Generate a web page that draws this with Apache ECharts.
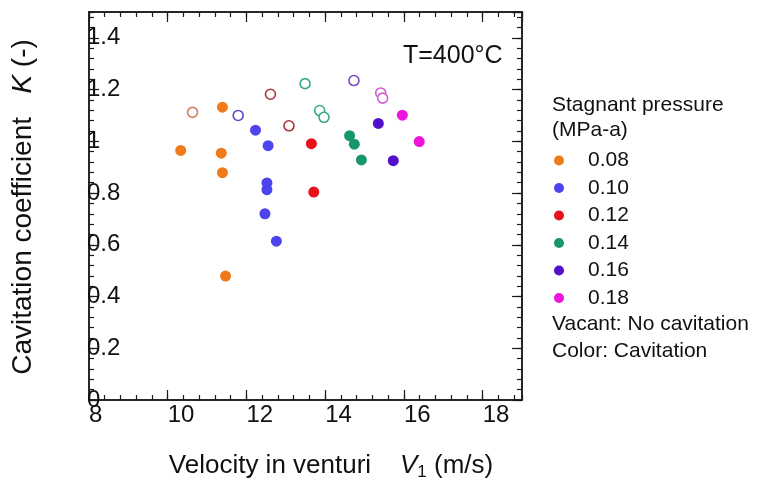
<!DOCTYPE html>
<html>
<head>
<meta charset="utf-8">
<script src="https://cdn.jsdelivr.net/npm/echarts@6/dist/echarts.min.js"></script>
<style>
html,body{margin:0;padding:0;background:#fff;}
#chart{width:757px;height:479px;}
</style>
</head>
<body>
<div id="chart"></div>
<script>
// Pressure groups (MPa-a)
const pressures = ['0.08', '0.10', '0.12', '0.14', '0.16', '0.18'];
const fillColors = ['#f07a1a', '#4d44ee', '#e8121c', '#16966a', '#5210cc', '#ee14dc'];
const openColors = ['#d08060', '#5a4cc8', '#a8323c', '#3aa88a', '#7a48c0', '#d060d0'];

// Cavitation (filled) points: [V1 (m/s), K]
const cav008 = [[10.33, 0.965], [11.39, 1.132], [11.36, 0.954], [11.39, 0.879], [11.47, 0.479]];
const cav010 = [[12.23, 1.043], [12.55, 0.983], [12.52, 0.839], [12.52, 0.813], [12.47, 0.720], [12.76, 0.614]];
const cav012 = [[13.65, 0.991], [13.71, 0.804]];
const cav014 = [[14.62, 1.022], [14.74, 0.989], [14.92, 0.928]];
const cav016 = [[15.35, 1.069], [15.73, 0.925]];
const cav018 = [[15.96, 1.101], [16.39, 0.999]];

// No cavitation (open) points
const noCav008 = [[10.63, 1.112]];
const noCav010 = [[11.79, 1.100]];
const noCav012 = [[12.61, 1.182], [13.08, 1.060]];
const noCav014 = [[13.49, 1.223], [13.86, 1.119], [13.97, 1.093]];
const noCav016 = [[14.73, 1.235]];
const noCav018 = [[15.41, 1.187], [15.46, 1.167]];

const cavData = [cav008, cav010, cav012, cav014, cav016, cav018];
const noCavData = [noCav008, noCav010, noCav012, noCav014, noCav016, noCav018];

const xMin = 8, xMax = 19, xMajor = 2, xMinor = 0.4;
const yMin = 0, yMax = 1.5, yMajor = 0.2, yMinor = 0.04;

const FONT = 'Liberation Sans, Arial, sans-serif';
const AX = '#1a1a1a';

function xAx(pos, interval, tickLen, labels) {
  return {
    type: 'value', position: pos, min: xMin, max: xMax, interval: interval,
    axisLine: { show: true, onZero: false, lineStyle: { color: AX, width: 1.5 } },
    axisTick: { show: true, inside: true, length: tickLen, lineStyle: { color: AX, width: 1.2 } },
    axisLabel: labels ? {
      show: true, align: 'left', margin: 3, color: '#111', fontSize: 24, fontFamily: FONT,
      showMaxLabel: false
    } : { show: false },
    splitLine: { show: false }
  };
}
function yAx(pos, interval, tickLen, labels) {
  return {
    type: 'value', position: pos, min: yMin, max: yMax, interval: interval,
    axisLine: { show: true, onZero: false, lineStyle: { color: AX, width: 1.5 } },
    axisTick: { show: true, inside: true, length: tickLen, lineStyle: { color: AX, width: 1.2 } },
    axisLabel: labels ? {
      show: true, inside: true, margin: -2, color: '#111', fontSize: 24, fontFamily: FONT,
      showMaxLabel: false, showMinLabel: true
    } : { show: false },
    splitLine: { show: false }
  };
}

const series = [];
pressures.forEach((p, i) => {
  series.push({
    name: p, type: 'scatter', xAxisIndex: 0, yAxisIndex: 0,
    symbol: 'circle', symbolSize: 11,
    itemStyle: { color: fillColors[i], opacity: 1 },
    data: cavData[i], z: 5
  });
  series.push({
    name: p + ' open', type: 'scatter', xAxisIndex: 0, yAxisIndex: 0,
    symbol: 'circle', symbolSize: 10,
    itemStyle: { color: '#fff', borderColor: openColors[i], borderWidth: 1.6, opacity: 1 },
    data: noCavData[i], z: 5
  });
});

const chart = echarts.init(document.getElementById('chart'), null, { renderer: 'canvas' });
chart.setOption({
  animation: false,
  backgroundColor: '#fff',
  grid: { left: 89, width: 433, top: 12, height: 388 },
  xAxis: [
    xAx('bottom', xMajor, 10, true),
    xAx('bottom', xMinor, 5, false),
    xAx('top', xMajor, 10, false),
    xAx('top', xMinor, 5, false)
  ],
  yAxis: [
    yAx('left', yMajor, 10, true),
    yAx('left', yMinor, 5, false),
    yAx('right', yMajor, 10, false),
    yAx('right', yMinor, 5, false)
  ],
  legend: {
    data: pressures,
    orient: 'vertical', left: 549, top: 145,
    itemWidth: 48, itemHeight: 10, itemGap: 6.5,
    icon: 'circle',
    selectedMode: false,
    textStyle: { fontSize: 21, lineHeight: 21, color: '#111', fontFamily: FONT }
  },
  graphic: [
    { type: 'text', x: 23, y: 207, rotation: Math.PI / 2,
      style: { text: '{a|Cavitation coefficient   }{b|K}{a| (-)}', align: 'center', verticalAlign: 'middle',
        rich: { a: { fontSize: 28, fontFamily: FONT, fill: '#111' }, b: { fontSize: 28, fontStyle: 'italic', fontFamily: FONT, fill: '#111' } } } },
    { type: 'text', x: 331, y: 466,
      style: { text: '{a|Velocity in venturi    }{b|V}{s|1}{a| (m/s)}', align: 'center', verticalAlign: 'middle',
        rich: { a: { fontSize: 26, fontFamily: FONT, fill: '#111' }, b: { fontSize: 26, fontStyle: 'italic', fontFamily: FONT, fill: '#111' },
          s: { fontSize: 17, fontFamily: FONT, fill: '#111', padding: [12, 0, 0, 0] } } } },
    { type: 'text', left: 403, top: 44,
      style: { text: 'T=400°C', font: '25px ' + FONT, fill: '#111' } },
    { type: 'text', left: 552, top: 95,
      style: { text: 'Stagnant pressure', font: '21px ' + FONT, fill: '#111' } },
    { type: 'text', left: 552, top: 120,
      style: { text: '(MPa-a)', font: '21px ' + FONT, fill: '#111' } },
    { type: 'text', left: 552, top: 314,
      style: { text: 'Vacant: No cavitation', font: '21px ' + FONT, fill: '#111' } },
    { type: 'text', left: 552, top: 341,
      style: { text: 'Color: Cavitation', font: '21px ' + FONT, fill: '#111' } }
  ],
  series: series
});
</script>
</body>
</html>
